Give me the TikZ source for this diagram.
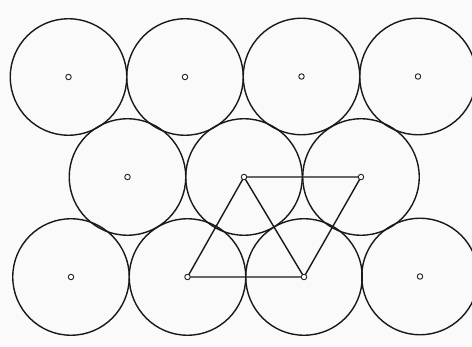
\documentclass[tikz,border=0pt]{standalone}
\begin{document}
\begin{tikzpicture}[x=1pt,y=-1pt,
  disc/.style={circle,draw=black!90,line width=1.4pt,minimum size=116.5pt,inner sep=0pt},
  ctr/.style={circle,draw=black!85,fill=white,line width=0.9pt,minimum size=5.5pt,inner sep=0pt},
  edge/.style={draw=black!90,line width=1.4pt}]
\fill[white!96!gray] (0,0) rectangle (472,347);
\useasboundingbox (0,0) rectangle (472,347);
% top row
\node[disc] (t1) at (68.5,77) {};
\node[disc] (t2) at (185,77) {};
\node[disc] (t3) at (301.5,76.5) {};
\node[disc] (t4) at (418,76.5) {};
% middle row
\node[disc] (m1) at (127.5,177) {};
\node[disc] (m2) at (244,177) {};
\node[disc] (m3) at (361,177) {};
% bottom row
\node[disc] (b1) at (71,277) {};
\node[disc] (b2) at (187.5,277) {};
\node[disc] (b3) at (304,277) {};
\node[disc] (b4) at (420,276.5) {};
% triangles
\draw[edge] (b2.center) -- (m2.center) -- (m3.center) -- (b3.center) -- cycle;
\draw[edge] (m2.center) -- (b3.center);
% centre marks
\foreach \n in {t1,t2,t3,t4,m1,b1,b4,m2,m3,b2,b3} \node[ctr] (c\n) at (\n.center) {};
\end{tikzpicture}
\end{document}
